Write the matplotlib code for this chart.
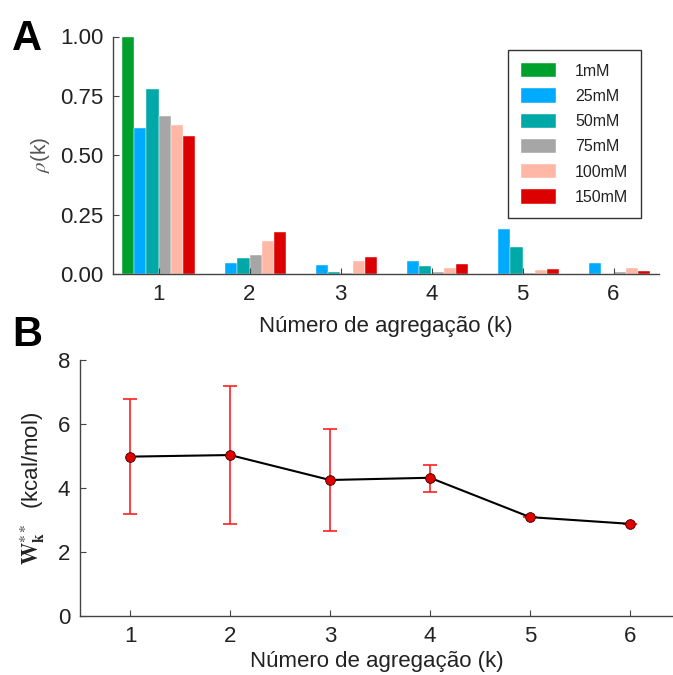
import matplotlib
matplotlib.use('Agg')
import matplotlib.pyplot as plt
import numpy as np

plt.rcParams['font.family'] = ['Liberation Sans', 'DejaVu Sans']
plt.rcParams['mathtext.fontset'] = 'stix'

# Panel A: distribution rho(k) per concentration
K = [1, 2, 3, 4, 5, 6]
SERIES = ["1mM", "25mM", "50mM", "75mM", "100mM", "150mM"]
RHO = {
    "1mM":   [1.00, 0.0, 0.0, 0.0, 0.0, 0.0],
    "25mM":  [0.616, 0.045, 0.038, 0.056, 0.188, 0.048],
    "50mM":  [0.778, 0.066, 0.010, 0.034, 0.112, 0.0],
    "75mM":  [0.665, 0.081, 0.005, 0.010, 0.005, 0.008],
    "100mM": [0.626, 0.139, 0.056, 0.024, 0.017, 0.024],
    "150mM": [0.580, 0.177, 0.073, 0.041, 0.020, 0.013],
}
COLORS = ["#00A02C", "#00AAFF", "#00A8A8", "#A6A6A6", "#FFB8A6", "#DD0000"]

# Panel B: W_k** with asymmetric error bars
W = [4.98, 5.03, 4.25, 4.32, 3.09, 2.88]
W_LO = [3.18, 2.88, 2.67, 3.89, 3.09, 2.88]
W_HI = [6.79, 7.19, 5.83, 4.71, 3.09, 2.88]

XLABEL = "Número de agregação (k)"
TXT = "#222222"
SPINE = "#444444"

fig = plt.figure(figsize=(6.73, 6.75), dpi=100)
fig.patch.set_facecolor("white")

def style(ax):
    for sp in ["top", "right"]:
        ax.spines[sp].set_visible(False)
    for sp in ["bottom", "left"]:
        ax.spines[sp].set_color(SPINE)
        ax.spines[sp].set_linewidth(1.0)
    ax.tick_params(direction="in", length=4, width=0.8, color=SPINE,
                   labelsize=16, labelcolor=TXT, pad=7)

# ---- A
ax1 = fig.add_axes([113/673, 1-274/675, 546/673, 237.5/675])
n = len(SERIES)
w = 0.8/n
x = np.array(K, dtype=float)
for i, (s, c) in enumerate(zip(SERIES, COLORS)):
    ax1.bar(x + (i-(n-1)/2)*w, RHO[s], w, color=c, label=s,
            edgecolor="white", linewidth=0.3)
ax1.set_xlim(0.5, 6.5)
ax1.set_ylim(0, 1.0)
ax1.set_xticks(K)
ax1.set_yticks([0, 0.25, 0.5, 0.75, 1.0])
ax1.set_yticklabels(["0.00", "0.25", "0.50", "0.75", "1.00"])
style(ax1)
ax1.set_xlabel(XLABEL, fontsize=16, color=TXT, labelpad=8)
ax1.set_ylabel(r"$\rho$(k)", fontsize=15, color="#555555", labelpad=6)
leg = ax1.legend(loc="upper right", bbox_to_anchor=(0.982, 0.975), fontsize=11.5,
                 fancybox=False, framealpha=1, edgecolor="#333333",
                 handlelength=2.2, handleheight=1.0, borderpad=0.8,
                 labelspacing=0.6, handletextpad=1.2)
leg.get_frame().set_linewidth(1.0)
for t in leg.get_texts():
    t.set_color(TXT)

# ---- B
ax2 = fig.add_axes([80/673, 1-616/675, 593/673, 256/675])
yerr = [np.array(W)-np.array(W_LO), np.array(W_HI)-np.array(W)]
ax2.errorbar(K, W, yerr=yerr, fmt="none", ecolor="#FF2020", elinewidth=1.2,
             capsize=5, capthick=1.2, zorder=2)
ax2.plot(K, W, color="black", linewidth=1.5, marker="o", markersize=7,
         markerfacecolor="#E00000", markeredgecolor="#330000",
         markeredgewidth=0.6, zorder=3)
ax2.set_xlim(0.5, 6.43)
ax2.set_ylim(0, 8)
ax2.set_xticks(K)
ax2.set_yticks([0, 2, 4, 6, 8])
style(ax2)
ax2.set_xlabel(XLABEL, fontsize=16, color=TXT, labelpad=3)
ax2.set_ylabel(r"$\mathbf{W}_{\mathbf{k}}^{**}$  (kcal/mol)", fontsize=16,
               color=TXT, labelpad=8)

fig.text(12/673, 1-50/675, "A", fontsize=30, fontweight="bold", color="black")
fig.text(12/673, 1-346/675, "B", fontsize=30, fontweight="bold", color="black")

plt.savefig("out.png", dpi=100, facecolor="white")
plt.close()
